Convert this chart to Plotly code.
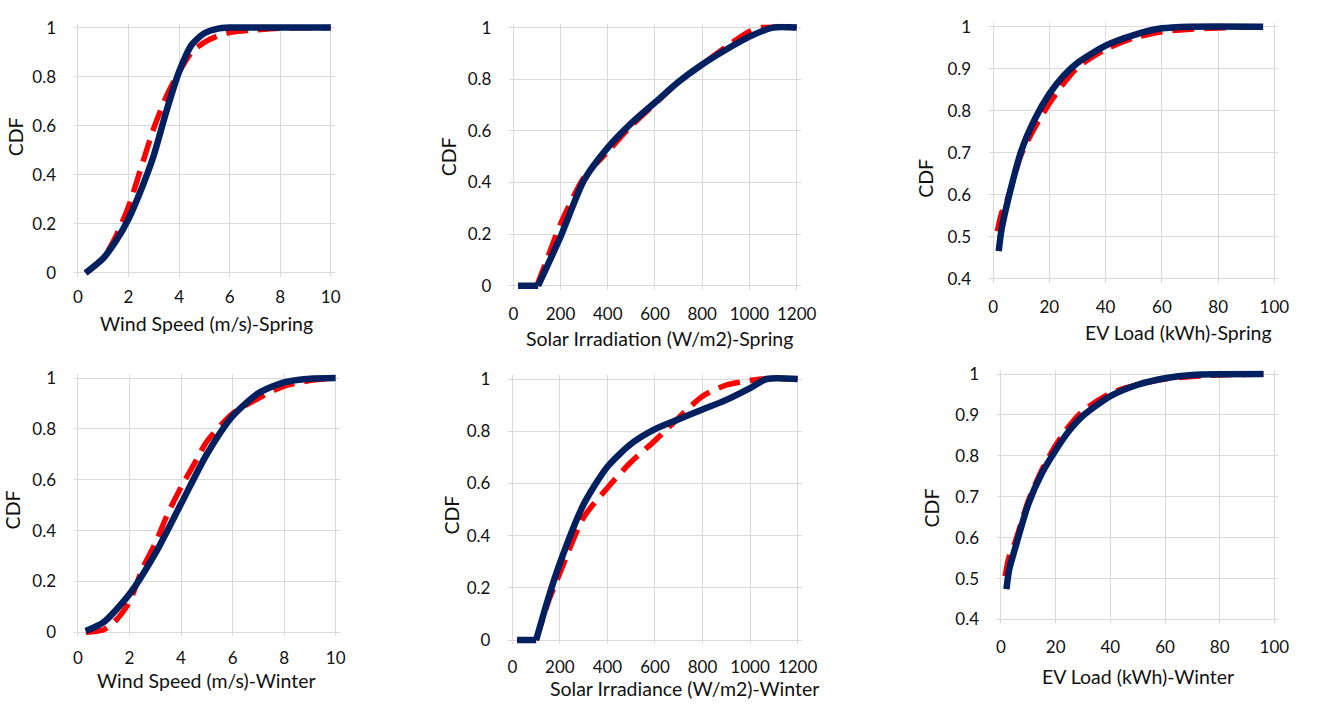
import plotly.graph_objects as go

W, H = 1322, 704

# ---------------- data ----------------
# Wind speed - Spring
ws_sp_x_fit = [0.3, 1, 1.5, 2, 2.5, 3, 3.5, 4, 4.5, 5, 5.5, 6, 7, 8, 10]
ws_sp_y_fit = [0.0, 0.06, 0.13, 0.22, 0.34, 0.48, 0.66, 0.82, 0.93, 0.977, 0.995, 1.0, 1.0, 1.0, 1.0]
ws_sp_x_emp = [0.3, 1, 1.5, 2, 2.5, 3, 3.5, 4, 4.5, 5, 5.5, 6, 7, 8, 10]
ws_sp_y_emp = [0.0, 0.06, 0.15, 0.27, 0.43, 0.59, 0.72, 0.82, 0.90, 0.94, 0.965, 0.98, 0.99, 0.997, 1.0]

# Solar irradiation - Spring
so_sp_x_fit = [20, 105, 200, 300, 400, 500, 600, 700, 800, 900, 1000, 1100, 1200]
so_sp_y_fit = [0.0, 0.0, 0.19, 0.41, 0.535, 0.63, 0.71, 0.79, 0.857, 0.914, 0.965, 1.0, 1.0]
so_sp_x_emp = [20, 100, 150, 200, 300, 400, 500, 600, 700, 800, 900, 1000, 1050, 1200]
so_sp_y_emp = [0.0, 0.0, 0.12, 0.24, 0.42, 0.52, 0.62, 0.705, 0.79, 0.857, 0.925, 0.985, 1.0, 1.0]

# EV load - Spring
ev_sp_x_fit = [2, 3, 5, 10, 15, 20, 25, 30, 40, 50, 60, 70, 96]
ev_sp_y_fit = [0.466, 0.517, 0.579, 0.704, 0.782, 0.84, 0.883, 0.914, 0.955, 0.98, 0.996, 1.0, 1.0]
ev_sp_x_emp = [1.5, 3, 5, 10, 15, 20, 25, 30, 40, 50, 60, 70, 80, 96]
ev_sp_y_emp = [0.513, 0.556, 0.587, 0.696, 0.762, 0.817, 0.864, 0.903, 0.946, 0.973, 0.988, 0.994, 0.997, 1.0]

# Wind speed - Winter
ws_wi_x_fit = [0.3, 1, 2, 3, 4, 5, 6, 7, 8, 9, 10]
ws_wi_y_fit = [0.005, 0.04, 0.15, 0.31, 0.505, 0.70, 0.85, 0.94, 0.983, 0.997, 1.0]
ws_wi_x_emp = [0.3, 1, 1.5, 2, 2.5, 3, 3.5, 4, 4.5, 5, 6, 7, 8, 9, 10]
ws_wi_y_emp = [0.0, 0.01, 0.05, 0.12, 0.25, 0.35, 0.47, 0.57, 0.66, 0.75, 0.86, 0.92, 0.968, 0.99, 1.0]

# Solar irradiance - Winter
so_wi_x_fit = [20, 100, 150, 200, 300, 400, 500, 600, 700, 800, 900, 1000, 1070, 1200]
so_wi_y_fit = [0.0, 0.0, 0.157, 0.295, 0.52, 0.664, 0.752, 0.808, 0.846, 0.883, 0.92, 0.965, 1.0, 1.0]
so_wi_x_emp = [20, 100, 150, 200, 300, 400, 500, 600, 700, 800, 900, 1000, 1050, 1200]
so_wi_y_emp = [0.0, 0.0, 0.144, 0.257, 0.47, 0.583, 0.683, 0.764, 0.852, 0.934, 0.977, 0.994, 1.0, 1.0]

# EV load - Winter
ev_wi_x_fit = [2, 3, 5, 10, 15, 20, 25, 30, 40, 50, 60, 70, 96]
ev_wi_y_fit = [0.474, 0.522, 0.57, 0.682, 0.758, 0.814, 0.862, 0.898, 0.946, 0.974, 0.99, 0.998, 1.0]
ev_wi_x_emp = [1.5, 3, 5, 10, 15, 20, 25, 30, 40, 50, 60, 70, 80, 96]
ev_wi_y_emp = [0.506, 0.554, 0.586, 0.69, 0.766, 0.826, 0.874, 0.91, 0.953, 0.974, 0.988, 0.994, 0.998, 1.0]

# tick values / labels
wind_ticks = [0, 2, 4, 6, 8, 10]
solar_ticks = [0, 200, 400, 600, 800, 1000, 1200]
ev_ticks = [0, 20, 40, 60, 80, 100]
cdf_ticks = [0, 0.2, 0.4, 0.6, 0.8, 1]
cdf_labels = ["0", "0.2", "0.4", "0.6", "0.8", "1"]
cdf_ev_ticks = [0.4, 0.5, 0.6, 0.7, 0.8, 0.9, 1]
cdf_ev_labels = ["0.4", "0.5", "0.6", "0.7", "0.8", "0.9", "1"]

x_titles = ["Wind Speed (m/s)-Spring", "Solar Irradiation (W/m2)-Spring", "EV Load (kWh)-Spring",
            "Wind Speed (m/s)-Winter", "Solar Irradiance (W/m2)-Winter", "EV Load (kWh)-Winter"]
y_title = "CDF"

# ---------------- layout geometry (pixels) ----------------
panels = [
    dict(px=(78, 334), py=(21, 271), xr=(0, 10), yr=(0, 1), xt=wind_ticks, yt=cdf_ticks, yl=cdf_labels,
         fit=(ws_sp_x_fit, ws_sp_y_fit), emp=(ws_sp_x_emp, ws_sp_y_emp),
         xtitle=(208, 322), ytitle=(15, 132), xstand=8),
    dict(px=(519, 806), py=(21, 284), xr=(0, 1200), yr=(0, 1), xt=solar_ticks, yt=cdf_ticks, yl=cdf_labels,
         fit=(so_sp_x_fit, so_sp_y_fit), emp=(so_sp_x_emp, so_sp_y_emp),
         xtitle=(667, 338), ytitle=(453, 153), xstand=12),
    dict(px=(1005, 1290), py=(20, 277), xr=(0, 100), yr=(0.4, 1), xt=ev_ticks, yt=cdf_ev_ticks, yl=cdf_ev_labels,
         fit=(ev_sp_x_fit, ev_sp_y_fit), emp=(ev_sp_x_emp, ev_sp_y_emp),
         xtitle=(1193, 332), ytitle=(937, 174), xstand=12),
    dict(px=(78, 339), py=(378, 637), xr=(0, 10), yr=(0, 1), xt=wind_ticks, yt=cdf_ticks, yl=cdf_labels,
         fit=(ws_wi_x_fit, ws_wi_y_fit), emp=(ws_wi_x_emp, ws_wi_y_emp),
         xtitle=(208, 686), ytitle=(12, 512), xstand=10),
    dict(px=(518, 807), py=(379, 645), xr=(0, 1200), yr=(0, 1), xt=solar_ticks, yt=cdf_ticks, yl=cdf_labels,
         fit=(so_wi_x_fit, so_wi_y_fit), emp=(so_wi_x_emp, so_wi_y_emp),
         xtitle=(692, 694), ytitle=(456, 518), xstand=11),
    dict(px=(1013, 1290), py=(374, 624), xr=(0, 100), yr=(0.4, 1), xt=ev_ticks, yt=cdf_ev_ticks, yl=cdf_ev_labels,
         fit=(ev_wi_x_fit, ev_wi_y_fit), emp=(ev_wi_x_emp, ev_wi_y_emp),
         xtitle=(1152, 682), ytitle=(943, 510), xstand=12),
]

FONT = "Lato"
TXT = "#111111"
GRID = "#d9d9d9"
NAVY = "#002060"
RED = "#ff0000"
PAD = 4  # pixels of padding so thick lines are not clipped
TICK_SIZE = 17
TITLE_SIZE = 19.5


def split_flat(xs, ys):
    """Split a series at the end of its leading flat run (so the corner stays sharp)."""
    k = 0
    while k + 1 < len(ys) and ys[k + 1] == ys[0]:
        k += 1
    if k == 0:
        return None, (xs, ys)
    return (xs[:k + 1], ys[:k + 1]), (xs[k:], ys[k:])


fig = go.Figure()
layout = dict(width=W, height=H, margin=dict(l=0, r=0, t=0, b=0),
              paper_bgcolor="white", plot_bgcolor="white", showlegend=False,
              font=dict(family=FONT, size=TICK_SIZE, color=TXT))
annotations = []

for i, p in enumerate(panels, start=1):
    xa = "xaxis" if i == 1 else f"xaxis{i}"
    ya = "yaxis" if i == 1 else f"yaxis{i}"
    xref = "x" if i == 1 else f"x{i}"
    yref = "y" if i == 1 else f"y{i}"
    x0p, x1p = p["px"]
    y0p, y1p = p["py"]  # top, bottom in pixels
    xa0, xa1 = p["xr"]
    ya0, ya1 = p["yr"]
    sx = (xa1 - xa0) / (x1p - x0p)
    sy = (ya1 - ya0) / (y1p - y0p)
    layout[xa] = dict(domain=[(x0p - PAD) / W, (x1p + PAD) / W],
                      range=[xa0 - PAD * sx, xa1 + PAD * sx],
                      anchor=yref, tickvals=p["xt"], ticktext=[str(t) for t in p["xt"]],
                      showgrid=True, gridcolor=GRID, gridwidth=1, zeroline=False, showline=False,
                      ticks="", ticklabelstandoff=p["xstand"],
                      tickfont=dict(family=FONT, size=TICK_SIZE, color=TXT), fixedrange=True)
    layout[ya] = dict(domain=[1 - (y1p + PAD) / H, 1 - (y0p - PAD) / H],
                      range=[ya0 - PAD * sy, ya1 + PAD * sy],
                      anchor=xref, tickvals=p["yt"], ticktext=p["yl"],
                      showgrid=True, gridcolor=GRID, gridwidth=1, zeroline=False, showline=False,
                      ticks="", ticklabelstandoff=17,
                      tickfont=dict(family=FONT, size=TICK_SIZE, color=TXT), fixedrange=True)

    for (xs, ys), style in ((p["emp"], dict(color=RED, width=5.5, dash="22px,10px")),
                            (p["fit"], dict(color=NAVY, width=6.5))):
        flat, curve = split_flat(xs, ys)
        if flat is not None:
            fig.add_trace(go.Scatter(x=flat[0], y=flat[1], mode="lines", xaxis=xref, yaxis=yref,
                                     line=dict(shape="linear", **style)))
        fig.add_trace(go.Scatter(x=curve[0], y=curve[1], mode="lines", xaxis=xref, yaxis=yref,
                                 line=dict(shape="spline", smoothing=0.7, **style)))

    annotations.append(dict(text=x_titles[i - 1], x=p["xtitle"][0] / W, y=1 - p["xtitle"][1] / H,
                            xref="paper", yref="paper", showarrow=False, xanchor="center", yanchor="middle",
                            font=dict(family=FONT, size=TITLE_SIZE, color=TXT)))
    annotations.append(dict(text=y_title, x=p["ytitle"][0] / W, y=1 - p["ytitle"][1] / H,
                            xref="paper", yref="paper", showarrow=False, xanchor="center", yanchor="middle",
                            textangle=-90, font=dict(family=FONT, size=TITLE_SIZE, color=TXT)))

layout["annotations"] = annotations
fig.update_layout(**layout)
fig.write_html("out.html")
